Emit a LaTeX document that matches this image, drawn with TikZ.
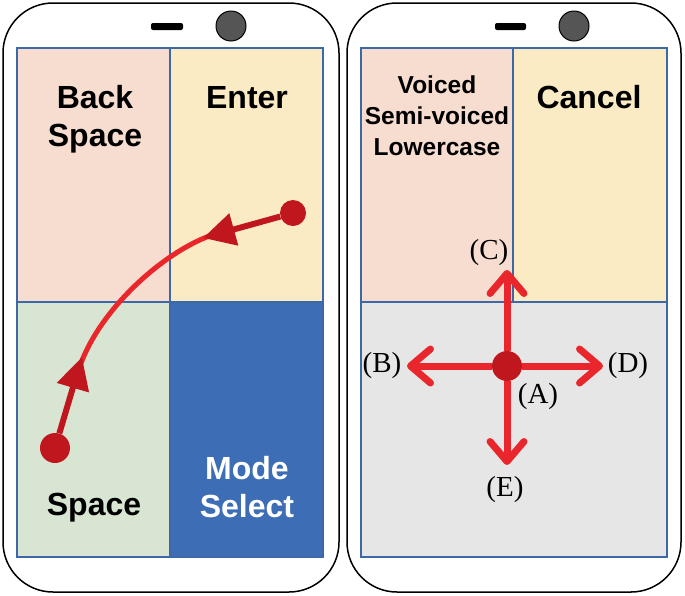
\documentclass[tikz,border=0pt]{standalone}
\usepackage{fontspec}
\setmainfont{Liberation Serif}
\setsansfont{Liberation Sans}
\usetikzlibrary{arrows.meta}
\definecolor{bspink}{HTML}{F7DDD0}
\definecolor{entyellow}{HTML}{FBEBC4}
\definecolor{spgreen}{HTML}{D8E5D3}
\definecolor{modeblue}{HTML}{3D6DB4}
\definecolor{padgray}{HTML}{E6E6E6}
\definecolor{gridblue}{HTML}{3D68A8}
\definecolor{flickred}{HTML}{E9262C}
\definecolor{dotred}{HTML}{C0161E}
\definecolor{camgray}{HTML}{555555}
\tikzset{
  phone/.style={draw=black,line width=1.5pt,rounded corners=50pt,fill=white},
  cell/.style={draw=gridblue,line width=1.6pt},
  keytext/.style={font=\sffamily\bfseries\fontsize{32}{38}\selectfont,align=center,anchor=base,inner sep=0pt},
  smallkey/.style={keytext,font=\sffamily\bfseries\fontsize{24.5}{31}\selectfont},
  dirtext/.style={font=\fontsize{29}{29}\selectfont,inner sep=0pt},
  touch/.style={circle,fill=dotred,inner sep=0pt,minimum size=#1},
  flick/.style={draw=flickred,line width=7pt,-{Straight Barb[length=20pt,width=34pt,round]}},
  push/.style={draw=dotred,line width=6pt,-{Triangle[length=32pt,width=32pt]}},
  swipe/.style={draw=flickred,line width=5pt},
}
\begin{document}
\begin{tikzpicture}[x=1pt,y=-1pt]
\useasboundingbox (0,0) rectangle (685,595);
\draw[phone] (3,3) rectangle (339,592);
\fill[black,rounded corners=2pt] (151,23) rectangle (183,30);
\draw[fill=camgray,line width=1pt] (231,26) circle[radius=15];
\draw[cell,fill=bspink] (17,48) rectangle (170,302);
\draw[cell,fill=entyellow] (170,48) rectangle (323,302);
\draw[cell,fill=spgreen] (17,302) rectangle (170,557);
\draw[cell,fill=modeblue] (170,302) rectangle (323,557);
\node[keytext] (back) at (95,146) {Back\\Space};
\node[keytext] (enter) at (247,108) {Enter};
\node[keytext] (space) at (94,515) {Space};
\node[keytext,text=white] (mode) at (247,517) {Mode\\Select};
\node[touch=26pt] (s1) at (293,213) {};
\node[touch=30pt] (s2) at (55,448) {};
\coordinate (t1) at (203,238);
\coordinate (t2) at (82,357);
\coordinate (u1) at (215,234);
\coordinate (u2) at (79,369);
\draw[swipe] (u1) .. controls (165,250) and (98,310) .. (u2);
\draw[push] (s1) -- (t1);
\draw[push] (s2) -- (t2);
\draw[phone] (347,3) rectangle (681,592);
\fill[black,rounded corners=2pt] (495,23) rectangle (526,30);
\draw[fill=camgray,line width=1pt] (574,26) circle[radius=15];
\draw[cell,fill=bspink] (361,48) rectangle (513,302);
\draw[cell,fill=entyellow] (513,48) rectangle (667,302);
\draw[cell,fill=padgray] (361,302) rectangle (667,557);
\node[smallkey] (voiced) at (437,155) {Voiced\\Semi-voiced\\Lowercase};
\node[keytext] (cancel) at (589,108) {Cancel};
\node[touch=30pt] (a) at (507,366) {};
\coordinate (c) at (507,270);
\coordinate (b) at (407,366);
\coordinate (d) at (603,366);
\coordinate (e) at (507,465);
\draw[flick] (a) -- (c);
\draw[flick] (a) -- (b);
\draw[flick] (a) -- (d);
\draw[flick] (a) -- (e);
\node[dirtext] (lc) at (489,253) {(C)};
\node[dirtext] (lb) at (382,366) {(B)};
\node[dirtext] (ld) at (628,366) {(D)};
\node[dirtext] (la) at (538,397) {(A)};
\node[dirtext] (le) at (505,490) {(E)};
\end{tikzpicture}
\end{document}
